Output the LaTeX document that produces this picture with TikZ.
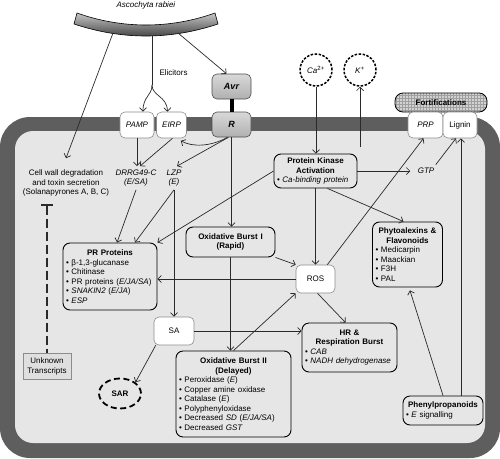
\documentclass[tikz,border=0pt]{standalone}
\usepackage{fontspec}
\setmainfont{Liberation Sans}
\usetikzlibrary{arrows.meta,shapes.geometric,patterns}

\definecolor{bandgray}{HTML}{5E5E5E}
\definecolor{cellgray}{HTML}{E6E6E6}
\definecolor{boxgray}{HTML}{8C8C8C}
\definecolor{linegray}{HTML}{2A2A2A}

\newcommand\boxttl[1]{\makebox[\linewidth]{\bfseries #1}}
\newcommand\itm{\textbullet\ }

\tikzset{
  cellbox/.style={draw=black, line width=0.9pt, rounded corners=7pt, fill=cellgray,
    align=left, inner xsep=3pt, inner ysep=2pt},
  whitebox/.style={draw=boxgray, line width=0.6pt, rounded corners=5pt, fill=white,
    align=center, inner sep=1pt},
  avrbox/.style={draw=black!70, line width=0.6pt, rounded corners=5pt,
    top color=gray!30, bottom color=gray!62, minimum width=39pt, minimum height=25pt,
    font=\fontsize{9}{10}\selectfont\bfseries\itshape},
  fortbox/.style={draw=black, line width=0.8pt, rounded corners=8pt,
    preaction={fill=gray!35}, pattern=grid, pattern color=gray!75,
    minimum width=92pt, minimum height=19pt, font=\fontsize{8}{9.5}\selectfont\bfseries},
  ionring/.style={circle, draw=black, line width=1.5pt, dash pattern=on 2.5pt off 1.5pt,
    fill=white, minimum size=32pt, inner sep=0pt},
  sarring/.style={ellipse, draw=black, line width=1.8pt, dash pattern=on 6pt off 3.5pt,
    minimum width=42pt, minimum height=30pt, inner sep=0pt},
  unkbox/.style={draw=boxgray, line width=0.5pt, fill=gray!25, align=center,
    minimum width=48pt, minimum height=26pt, inner sep=1pt},
  conn/.style={draw=linegray, line width=0.7pt, ->},
  inhibit/.style={draw=linegray, line width=2.2pt, dash pattern=on 9pt off 4pt,
    arrows={Bar[width=12pt]-}},
}

\begin{document}
\begin{tikzpicture}[x=1pt,y=-1pt,font=\fontsize{8}{9.5}\selectfont,
    >={Straight Barb[length=3.5pt,width=7pt]}]
\useasboundingbox (0,0) rectangle (500,458);

% cell wall and inside
\fill[bandgray,rounded corners=30pt] (0,117) rectangle (500,458);
\fill[cellgray,rounded corners=18pt] (15,131) rectangle (485,443);

% pathogen
\node (patho) at (146,5) {\textit{Ascochyta rabiei}};
\draw[top color=gray!45,bottom color=black!80,draw=black,line width=0.6pt,line join=round]
  (77,13) .. controls (122,29) and (170,29) .. (215,13) -- (218,24)
  .. controls (170,40) and (122,40) .. (74,24) -- cycle;
\coordinate (patho-a) at (113,33);
\coordinate (patho-b) at (152,36);
\coordinate (patho-c) at (178,33);
\coordinate (elic) at (152,85);

% receptors on the membrane
\node[whitebox,minimum width=34pt,minimum height=26pt] (pamp) at (137,125) {\textit{PAMP}};
\node[whitebox,minimum width=30pt,minimum height=26pt] (eirp) at (171.5,125) {\textit{EIRP}};
\node[avrbox] (avr) at (231.5,86.5) {Avr};
\node[avrbox] (r) at (231.5,124.5) {R};
\node[fortbox] (fort) at (441,102.5) {Fortifications};
\node[whitebox,minimum width=35pt,minimum height=26pt] (prp) at (425.5,125) {\textit{PRP}};
\node[whitebox,minimum width=34pt,minimum height=26pt] (lignin) at (460,125) {Lignin};
\node[ionring] (ca) at (316,70) {\textit{Ca}\textsuperscript{2+}};
\node[ionring] (k) at (360,70) {\textit{K}\textsuperscript{+}};
\coordinate (kout) at (360,147);

% labels
\node[anchor=west] (elicit) at (156,73) {Elicitors};
\node[align=center] (wall) at (66,183) {Cell wall degradation\\and toxin secretion\\(Solanapyrones A, B, C)};
\node[align=center] (drrg) at (136,178) {\textit{DRRG49-C}\\\textit{(E/SA)}};
\node[align=center] (lzp) at (174,178) {\textit{LZP}\\\textit{(E)}};
\node (gtp) at (426,171) {\textit{GTP}};

% responses
\node[cellbox,text width=77pt,minimum height=34pt] (pka) at (315.5,171)
  {\boxttl{Protein Kinase}\\\boxttl{Activation}\\\itm\textit{Ca-binding protein}};
\node[cellbox,text width=83pt,minimum height=30pt,align=center] (ob1) at (230.5,242)
  {\textbf{Oxidative Burst I}\\\textbf{(Rapid)}};
\node[cellbox,text width=88pt,minimum height=67pt] (pr) at (110,276.5)
  {\boxttl{PR Proteins}\\\itm β-1,3-glucanase\\\itm Chitinase\\\itm PR proteins (\textit{E/JA/SA})\\\itm\textit{SNAKIN2} (\textit{E/JA})\\\itm\textit{ESP}};
\node[whitebox,minimum width=39pt,minimum height=28pt] (ros) at (315.5,279) {ROS};
\node[cellbox,text width=64pt,minimum height=65pt] (phyto) at (407.5,254.5)
  {\boxttl{Phytoalexins \&}\\\boxttl{Flavonoids}\\\itm Medicarpin\\\itm Maackian\\\itm F3H\\\itm PAL};
\node[whitebox,minimum width=40pt,minimum height=28pt] (sa) at (174,331) {SA};
\node[cellbox,text width=89pt,minimum height=49pt] (hr) at (349.5,347.5)
  {\boxttl{HR \&}\\\boxttl{Respiration Burst}\\\itm\textit{CAB}\\\itm\textit{NADH dehydrogenase}};
\node[cellbox,text width=109pt,minimum height=86pt] (ob2) at (233.5,394)
  {\boxttl{Oxidative Burst II}\\\boxttl{(Delayed)}\\\itm Peroxidase (\textit{E})\\\itm Copper amine oxidase\\\itm Catalase (\textit{E})\\\itm Polyphenyloxidase\\\itm Decreased \textit{SD} (\textit{E/JA/SA})\\\itm Decreased \textit{GST}};
\node[sarring] (sar) at (120,393.5) {\textbf{SAR}};
\node[cellbox,text width=74pt,minimum height=29pt] (phenyl) at (443,410.5)
  {\boxttl{Phenylpropanoids}\\\itm\textit{E} signalling};
\node[unkbox] (unk) at (47,366.5) {Unknown\\Transcripts};
\coordinate (inhib) at (47,204);

% connectors
\draw[conn] (patho-a) -- ([yshift=8pt]wall.north);
\draw[conn,-] (patho-b) -- (elic);
\draw[conn] (elic) .. controls (152,96) and (143,96) .. ([xshift=6pt]pamp.north);
\draw[conn] (elic) .. controls (152,96) and (167,96) .. ([xshift=-4pt]eirp.north);
\draw[conn] (patho-c) -- ([xshift=-5pt]avr.north);
\draw[line width=4pt] (avr.south) -- (r.north);
\draw[conn] (pamp.south) -- (pamp.south |- drrg.north);
\draw[conn] ([xshift=1pt]eirp.south) -- ([xshift=4pt]drrg.north);
\draw[conn] ([xshift=-4pt]r.south) .. controls (210,147) and (192,147) .. ([xshift=-6pt,yshift=-2.5pt]eirp.south east);
\draw[conn] ([xshift=-3pt]r.south) -- ([xshift=3pt]lzp.north);
\draw[conn] (r.south) -- (r.south |- ob1.north);
\draw[conn] (drrg.south) -- ([xshift=7pt]pr.north);
\draw[conn] (lzp.south) -- ([xshift=25pt]pr.north);
\draw[conn] (pka.west) -- (pr.north east);
\draw[conn] (lzp.south) -- (lzp.south |- sa.north);
\draw[conn] (ca.south) -- (ca.south |- pka.north);
\draw[conn] (kout) -- (k.south);
\draw[conn,shorten >=4pt] (pka.east) -- (gtp.west);
\draw[conn] ([xshift=-2pt]gtp.north east) -- ([xshift=-4pt]lignin.south);
\draw[conn] ([xshift=12pt]pka.south) -- ([xshift=-4pt]phyto.north);
\draw[conn] (pka.south) -- (ros.north);
\draw[conn] ([xshift=-8pt]ros.north east) -- ([xshift=-2pt]prp.south);
\draw[conn] (ob1.south east) -- (ros.north west);
\draw[conn] (ros.west) -- (ros.west -| pr.east);
\draw[conn] (ob1.south) -- (ob1.south |- ob2.north);
\draw[conn] (ob2.north) -- (ros.south west);
\draw[conn] (sa.east) -- (sa.east -| hr.west);
\draw[conn] ([xshift=2pt]ros.south) -- ([xshift=-4pt]hr.north);
\draw[conn] ([xshift=2pt]sa.south west) -- (sar.north east);
\draw[conn,shorten >=3pt] (phenyl.north) -- ([xshift=1.5pt]phyto.south);
\draw[conn] ([xshift=18pt]phenyl.north) -- ([xshift=18pt]phenyl.north |- lignin.south);
\draw[inhibit] (inhib) -- (unk.north);
\end{tikzpicture}
\end{document}
